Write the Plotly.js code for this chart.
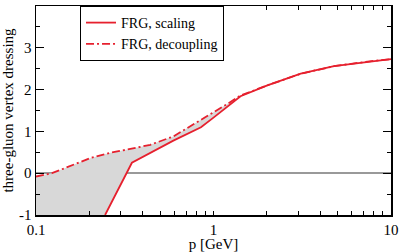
<!DOCTYPE html>
<html>
<head>
<meta charset="utf-8">
<script src="https://cdn.plot.ly/plotly-3.0.1.min.js"></script>
<style>html,body{margin:0;padding:0;background:#fff;}#plot{width:399px;height:252px;}</style>
</head>
<body>
<div id="plot"></div>
<script>
// FRG, scaling
const scalingP = [0.245, 0.347, 0.594, 0.85, 1.0, 1.42, 2.01, 3.1, 4.77, 7.38, 10];
const scalingY = [-1.0, 0.25, 0.78, 1.10, 1.33, 1.84, 2.10, 2.38, 2.56, 2.67, 2.73];
// FRG, decoupling
const decP = [0.1, 0.123, 0.202, 0.262, 0.34, 0.441, 0.594, 0.85, 1.2, 1.42, 2.01, 3.1, 4.77, 7.38, 10];
const decY = [-0.08, 0.0, 0.36, 0.49, 0.58, 0.68, 0.88, 1.27, 1.66, 1.86, 2.10, 2.38, 2.56, 2.67, 2.73];
// axis ticks
const xMajor = [0.1, 1, 10];
const xMajorText = ['0.1', '1', '10'];
const xMinor = [0.2, 0.3, 0.4, 0.5, 0.6, 0.7, 0.8, 0.9, 2, 3, 4, 5, 6, 7, 8, 9];
const yTicks = [-1, 0, 1, 2, 3, 4];
const yTickText = ['-1', '0', '1', '2', '3', '4'];

const yRange = [-1, 4];
const xRange = [0.1, 10];
const red = '#e6202e';
const serif = 'Liberation Serif, Times New Roman, serif';

// lower boundary of the shaded region: axis bottom, then the scaling curve
const lowP = [xRange[0]].concat(scalingP);
const lowY = [yRange[0]].concat(scalingY);

const traces = [
  {x: lowP, y: lowY, mode: 'lines', line: {width: 0, color: 'rgba(0,0,0,0)'},
   showlegend: false, hoverinfo: 'skip'},
  {x: decP, y: decY, mode: 'lines', showlegend: false, hoverinfo: 'skip',
   line: {width: 0, color: 'rgba(0,0,0,0)'},
   fill: 'tonexty', fillcolor: '#dcdcdc',
   fillpattern: {shape: '.', fgcolor: '#c8c8c8', bgcolor: '#e6e6e6', size: 2, solidity: 0.5}},
  {x: scalingP, y: scalingY, mode: 'lines', name: 'FRG, scaling',
   line: {color: red, width: 1.8}},
  {x: decP, y: decY, mode: 'lines', name: 'FRG, decoupling',
   line: {color: red, width: 1.8, dash: '8px,3px,2px,3px'}}
];

const allTicks = xMajor.concat(xMinor);
const allText = xMajorText.concat(xMinor.map(() => ''));

const layout = {
  width: 399, height: 252,
  margin: {l: 36, r: 8, t: 6, b: 37},
  paper_bgcolor: '#fff', plot_bgcolor: '#fff',
  font: {family: serif, size: 14, color: '#000'},
  showlegend: true,
  legend: {x: 0.124, y: 1, xanchor: 'left', yanchor: 'top', traceorder: 'normal',
    bordercolor: '#000', borderwidth: 1, bgcolor: '#fff',
    font: {family: serif, size: 14}, tracegroupgap: 0},
  xaxis: {
    type: 'log', range: [Math.log10(xRange[0]), Math.log10(xRange[1])],
    tickmode: 'array', tickvals: allTicks, ticktext: allText,
    ticks: 'inside', ticklen: 4, tickcolor: '#000', tickwidth: 1,
    showline: true, linecolor: '#000', linewidth: 1.5, mirror: 'ticks',
    showgrid: false, zeroline: false,
    tickfont: {family: serif, size: 15},
    title: {text: 'p [GeV]', font: {family: serif, size: 15}, standoff: 2}
  },
  xaxis2: {
    type: 'log', range: [Math.log10(xRange[0]), Math.log10(xRange[1])],
    overlaying: 'x', anchor: 'y', side: 'bottom',
    tickmode: 'array', tickvals: xMajor, showticklabels: false,
    ticks: 'inside', ticklen: 8, tickcolor: '#000', tickwidth: 1,
    showline: false, mirror: 'ticks', showgrid: false, zeroline: false
  },
  yaxis: {
    range: yRange, tickmode: 'array', tickvals: yTicks, ticktext: yTickText,
    ticks: 'inside', ticklen: 8, tickcolor: '#000', tickwidth: 1,
    minor: {dtick: 0.5, ticks: 'inside', ticklen: 4, tickcolor: '#000'},
    showline: true, linecolor: '#000', linewidth: 1.5, mirror: 'ticks',
    showgrid: false, zeroline: true, zerolinecolor: '#999', zerolinewidth: 1.5,
    tickfont: {family: serif, size: 15},
    title: {text: 'three-gluon vertex dressing', font: {family: serif, size: 15}, standoff: 3}
  }
};

Plotly.newPlot('plot', traces, layout, {displayModeBar: false, staticPlot: true});
</script>
</body>
</html>
